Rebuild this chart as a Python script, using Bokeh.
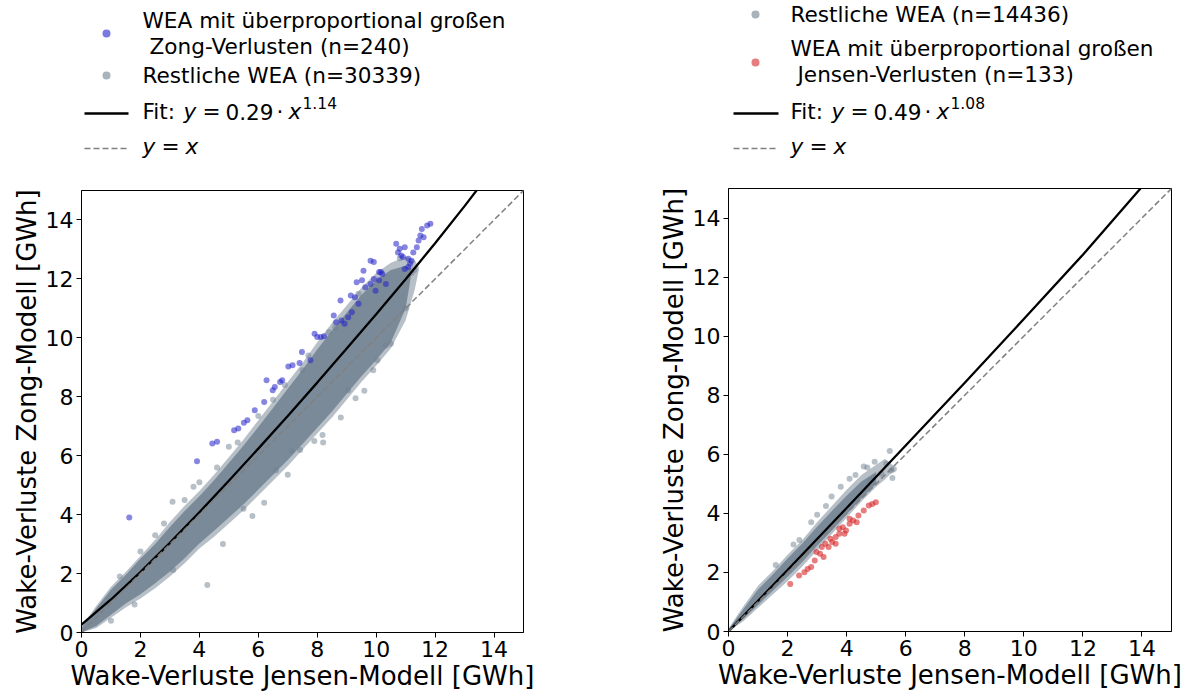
from bokeh.plotting import figure
from bokeh.layouts import row, column
from bokeh.models import Range1d, FixedTicker
from bokeh.core.properties import value
from bokeh.embed import file_html
from bokeh.resources import INLINE

FONT = "DejaVu Sans"

# ---------------- data ----------------
ticks = [0, 2, 4, 6, 8, 10, 12, 14]
x_label = "Wake-Verluste Jensen-Modell [GWh]"
y_label = "Wake-Verluste Zong-Modell [GWh]"

# left panel: fitted curve (as drawn)
fitL_x = [0.0, 1.0, 2.0, 3.0, 4.0, 5.0, 6.0, 7.0, 8.0, 9.0, 10.0, 11.0, 12.0, 13.0, 13.43]
fitL_y = [0.27, 1.12, 2.05, 3.04, 4.08, 5.15, 6.24, 7.35, 8.48, 9.64, 10.80, 11.99, 13.21, 14.47, 15.03]
# right panel: fitted curve (as drawn)
fitR_x = [0.0, 2.0, 4.0, 6.0, 8.0, 10.0, 12.0, 13.95]
fitR_y = [0.0, 2.08, 4.18, 6.30, 8.42, 10.58, 12.76, 15.0]
diag = [0, 15]

# left panel: envelope of the grey point cloud (sparse fringe / dense core)
cloudL_x = [0.0, 0.5, 1.0, 1.5, 2.0, 2.5, 3.0, 3.5, 4.0, 4.5, 5.0, 5.5, 6.0, 6.5, 7.0, 7.5, 8.0, 8.5, 9.0, 9.5, 10.0, 10.5, 11.0, 11.3, 11.45]
cloudL_hi = [0.2, 0.9, 1.55, 2.05, 2.6, 3.15, 3.75, 4.3, 4.8, 5.35, 5.95, 6.55, 7.2, 7.85, 8.5, 9.15, 9.85, 10.5, 11.1, 11.7, 12.2, 12.55, 12.75, 12.65, 12.4]
cloudL_lo = [0.0, 0.15, 0.5, 0.85, 1.15, 1.5, 1.9, 2.35, 2.85, 3.25, 3.7, 4.15, 4.65, 5.15, 5.65, 6.2, 6.75, 7.3, 7.9, 8.5, 9.05, 9.65, 10.6, 11.6, 12.3]
coreL_x = [0.0, 0.5, 1.0, 1.5, 2.0, 2.5, 3.0, 3.5, 4.0, 4.5, 5.0, 5.5, 6.0, 6.5, 7.0, 7.5, 8.0, 8.5, 9.0, 9.5, 10.0, 10.5, 11.0, 11.2]
coreL_hi = [0.15, 0.82, 1.45, 1.95, 2.5, 3.0, 3.58, 4.12, 4.62, 5.17, 5.75, 6.35, 6.97, 7.62, 8.27, 8.92, 9.6, 10.25, 10.85, 11.45, 11.95, 12.3, 12.45, 12.35]
coreL_lo = [0.0, 0.22, 0.6, 0.98, 1.3, 1.67, 2.07, 2.52, 3.02, 3.45, 3.9, 4.35, 4.85, 5.35, 5.85, 6.4, 6.95, 7.5, 8.1, 8.7, 9.25, 9.85, 11.0, 12.2]
greyL_x = [3.11, 4.27, 10.33, 10.04, 8.18, 7.13, 7.42, 6.60, 9.05, 3.09, 1.30, 2.50, 5.50, 6.20, 7.90, 8.80, 9.60, 10.50, 11.00, 11.30, 5.00, 4.00, 3.50, 6.50, 7.50, 8.40, 9.20, 10.80, 11.20, 9.90, 2.00, 2.80, 3.80, 4.60, 5.30, 6.00, 6.90, 7.70, 8.60, 9.40, 1.00, 1.80, 4.80, 5.80, 7.00, 8.20, 9.30]
greyL_y = [2.12, 1.61, 9.74, 9.24, 6.70, 6.16, 6.19, 5.51, 8.22, 4.44, 1.90, 3.30, 4.20, 4.40, 6.50, 7.30, 8.20, 9.80, 11.00, 12.30, 6.30, 5.10, 4.50, 7.90, 8.90, 10.20, 10.90, 12.70, 12.20, 8.90, 2.75, 3.70, 4.95, 5.60, 6.45, 7.35, 8.40, 9.40, 10.35, 11.50, 0.40, 0.95, 3.00, 3.95, 5.35, 6.45, 7.95]
blue_x = [1.62, 3.92, 4.44, 4.60, 5.18, 5.32, 5.51, 5.63, 5.88, 6.20, 6.28, 6.49, 6.56, 6.74, 6.81, 7.02, 7.16, 7.40, 7.48, 7.77, 7.91, 8.00, 8.12, 8.23, 8.56, 8.64, 8.82, 8.93, 8.79, 9.14, 9.28, 9.40, 9.05, 9.17, 9.34, 9.52, 9.63, 9.81, 9.92, 9.98, 10.10, 10.21, 10.33, 9.57, 9.81, 9.92, 10.10, 10.16, 10.68, 10.80, 10.74, 10.85, 10.91, 10.97, 11.09, 11.20, 11.26, 11.38, 11.44, 11.55, 11.50, 11.61, 11.73, 11.84, 10.97, 11.09, 11.15]
blue_y = [3.90, 5.81, 6.41, 6.47, 6.86, 6.92, 7.12, 7.20, 7.54, 7.82, 8.56, 8.22, 8.33, 8.50, 8.56, 9.03, 9.07, 9.15, 9.52, 9.24, 10.14, 10.03, 10.03, 10.05, 10.76, 10.53, 10.59, 10.48, 11.27, 11.44, 11.38, 11.16, 10.70, 10.87, 11.89, 11.95, 11.72, 11.83, 12.00, 11.60, 11.95, 12.17, 11.83, 12.28, 12.62, 12.57, 12.23, 12.23, 13.19, 13.02, 12.90, 12.79, 12.74, 13.07, 12.68, 12.62, 12.90, 13.07, 13.30, 13.69, 13.47, 13.41, 13.81, 13.87, 12.34, 12.40, 12.51]

# right panel
cloudR_x = [0.0, 0.5, 1.0, 1.5, 2.0, 2.5, 3.0, 3.5, 4.0, 4.5, 5.0, 5.3, 5.6]
cloudR_hi = [0.1, 0.85, 1.55, 2.05, 2.6, 3.1, 3.7, 4.25, 4.8, 5.3, 5.65, 5.85, 5.6]
cloudR_lo = [0.0, 0.35, 0.8, 1.25, 1.7, 2.2, 2.75, 3.3, 3.85, 4.4, 4.9, 5.15, 5.45]
coreR_x = [0.0, 0.5, 1.0, 1.5, 2.0, 2.5, 3.0, 3.5, 4.0, 4.5, 5.0]
coreR_hi = [0.07, 0.75, 1.42, 1.93, 2.47, 2.98, 3.55, 4.08, 4.6, 5.08, 5.4]
coreR_lo = [0.0, 0.42, 0.9, 1.38, 1.85, 2.35, 2.9, 3.42, 3.97, 4.5, 5.0]
greyR_x = [5.46, 4.58, 4.70, 5.17, 3.49, 2.80, 4.10, 5.34, 5.52, 4.81, 5.60, 5.55, 3.00, 3.80, 2.40, 1.60, 2.20, 3.30, 4.30, 4.95]
greyR_y = [6.11, 5.59, 5.55, 5.34, 4.57, 3.70, 5.17, 5.68, 5.45, 5.11, 5.50, 5.20, 3.95, 4.90, 3.10, 2.25, 2.95, 4.25, 5.30, 5.75]
red_x = [2.09, 2.39, 2.57, 2.80, 2.92, 3.10, 3.22, 3.39, 3.51, 3.63, 3.75, 3.87, 3.98, 4.10, 4.22, 4.34, 4.40, 4.58, 4.87, 4.99, 2.98, 3.28, 3.45, 3.93, 2.68, 4.10, 4.75, 3.16, 3.63, 3.75]
red_y = [1.61, 1.90, 2.01, 2.18, 2.40, 2.63, 2.52, 2.86, 3.03, 3.20, 3.31, 3.53, 3.42, 3.65, 3.76, 3.70, 3.93, 4.10, 4.32, 4.38, 2.69, 2.97, 3.14, 3.31, 2.12, 3.82, 4.27, 2.86, 2.97, 3.48]

legL_labels = ["WEA mit überproportional großen", "Zong-Verlusten (n=240)", "Restliche WEA (n=30339)"]
legR_labels = ["Restliche WEA (n=14436)", "WEA mit überproportional großen", "Jensen-Verlusten (n=133)"]
fitL_coef = ("0.29", "1.14")
fitR_coef = ("0.49", "1.08")

GREY = "#708090"
BLUE = "#2323c8"
RED = "#d62728"

# page geometry of the two axes boxes (left, right, top, bottom in pixels)
BOX_L = (81, 523, 190, 633)
BOX_R = (728, 1171, 188, 631)
LEG_H = 180
LEG_FS = "21.6px"


def style_axes(p):
    p.grid.visible = False
    p.outline_line_color = "black"
    p.outline_line_width = 1
    p.background_fill_color = "white"
    p.border_fill_color = "white"
    for ax in (p.xaxis[0], p.yaxis[0]):
        ax.ticker = FixedTicker(ticks=ticks)
        ax.major_label_text_font = FONT
        ax.major_label_text_font_size = "22px"
        ax.major_label_text_color = "black"
        ax.major_label_standoff = 3
        ax.axis_label_text_font = FONT
        ax.axis_label_text_font_size = "26px"
        ax.axis_label_text_font_style = "normal"
        ax.axis_label_text_color = "black"
        ax.axis_label_standoff = 1
        ax.minor_tick_line_color = None
        ax.major_tick_out = 5
        ax.major_tick_in = 0
        ax.axis_line_color = "black"
        ax.major_tick_line_color = "black"
    p.xaxis.axis_label = x_label
    p.yaxis.axis_label = y_label


def make_panel(page_x0, box):
    l, r, t, b = box
    p = figure(width=594, height=693 - LEG_H, x_range=Range1d(0, 15), y_range=Range1d(0, 15),
               output_backend="svg", toolbar_location=None,
               min_border_left=l - page_x0, min_border_right=page_x0 + 594 - r,
               min_border_top=t - LEG_H, min_border_bottom=693 - b)
    style_axes(p)
    return p


def make_legend_fig(page_x0, box):
    l, r, t, b = box
    q = figure(width=594, height=LEG_H, x_range=Range1d(l, r), y_range=Range1d(LEG_H, 0),
               output_backend="svg", toolbar_location=None,
               min_border_left=l - page_x0, min_border_right=page_x0 + 594 - r,
               min_border_top=0, min_border_bottom=0,
               x_axis_type=None, y_axis_type=None)
    q.grid.visible = False
    q.outline_line_color = None
    q.border_fill_color = "white"
    return q


def txt(q, x, y, s, size=LEG_FS, style="normal"):
    q.text(x=[x], y=[y], text=[s], text_font=value(FONT), text_font_size=size,
           text_font_style=style, text_baseline="alphabetic", text_align="left", text_color="black")


def fit_text(q, x0, base, coef):
    txt(q, x0, base, "Fit:")
    txt(q, x0 + 41, base, "y", style="italic")
    txt(q, x0 + 60, base, "=")
    txt(q, x0 + 83, base, coef[0])
    txt(q, x0 + 134, base, "·")
    txt(q, x0 + 146, base, "x", style="italic")
    txt(q, x0 + 160, base - 9, coef[1], size="15.5px")


def yx_text(q, x0, base):
    txt(q, x0, base, "y", style="italic")
    txt(q, x0 + 19, base, "=")
    txt(q, x0 + 43, base, "x", style="italic")


# ---------------- left panel ----------------
pL = make_panel(0, BOX_L)
pL.varea(x=cloudL_x, y1=cloudL_lo, y2=cloudL_hi, fill_color=GREY, fill_alpha=0.5)
pL.varea(x=coreL_x, y1=coreL_lo, y2=coreL_hi, fill_color=GREY, fill_alpha=0.85)
pL.scatter(greyL_x, greyL_y, size=6, fill_color=GREY, fill_alpha=0.5, line_color=None)
pL.scatter(blue_x, blue_y, size=6, fill_color=BLUE, fill_alpha=0.55, line_color=None)
pL.line(fitL_x, fitL_y, line_color="black", line_width=2.3)
pL.line(diag, diag, line_color="#808080", line_width=1.5, line_dash="6 3")

# ---------------- right panel ----------------
pR = make_panel(594, BOX_R)
pR.varea(x=cloudR_x, y1=cloudR_lo, y2=cloudR_hi, fill_color=GREY, fill_alpha=0.5)
pR.varea(x=coreR_x, y1=coreR_lo, y2=coreR_hi, fill_color=GREY, fill_alpha=0.85)
pR.scatter(greyR_x, greyR_y, size=6, fill_color=GREY, fill_alpha=0.5, line_color=None)
pR.scatter(red_x, red_y, size=6, fill_color=RED, fill_alpha=0.6, line_color=None)
pR.line(fitR_x, fitR_y, line_color="black", line_width=2.3)
pR.line(diag, diag, line_color="#808080", line_width=1.5, line_dash="6 3")

# ---------------- legends ----------------
lL = make_legend_fig(0, BOX_L)
lL.scatter([106], [33], size=8, fill_color=BLUE, fill_alpha=0.6, line_color=None)
txt(lL, 142, 20, legL_labels[0])
txt(lL, 149, 46, legL_labels[1])
lL.scatter([106], [75], size=8, fill_color=GREY, fill_alpha=0.6, line_color=None)
txt(lL, 142, 75, legL_labels[2])
lL.line([84, 128], [113, 113], line_color="black", line_width=2.3)
fit_text(lL, 142, 111, fitL_coef)
lL.line([84, 128], [148, 148], line_color="#808080", line_width=1.5, line_dash="6 3")
yx_text(lL, 142, 146)

lR = make_legend_fig(594, BOX_R)
lR.scatter([755], [14], size=8, fill_color=GREY, fill_alpha=0.6, line_color=None)
txt(lR, 790, 14, legR_labels[0])
lR.scatter([755], [62], size=8, fill_color=RED, fill_alpha=0.6, line_color=None)
txt(lR, 790, 48, legR_labels[1])
txt(lR, 797, 74, legR_labels[2])
lR.line([733, 778], [113, 113], line_color="black", line_width=2.3)
fit_text(lR, 790, 111, fitR_coef)
lR.line([733, 778], [148, 148], line_color="#808080", line_width=1.5, line_dash="6 3")
yx_text(lR, 790, 146)

layout = row(column(lL, pL, spacing=0), column(lR, pR, spacing=0), spacing=0)
open("out.html", "w").write(file_html(layout, INLINE))
